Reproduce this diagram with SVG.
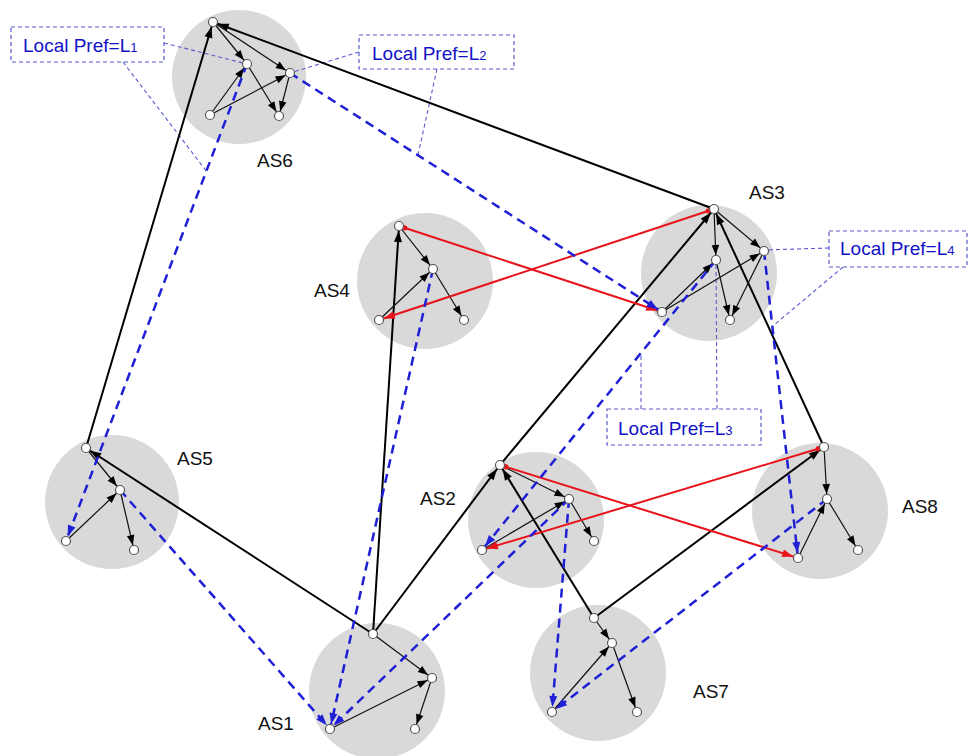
<svg xmlns="http://www.w3.org/2000/svg" width="972" height="756" viewBox="0 0 972 756">
<style>
.area{fill:#d9d9d9}
.ex{stroke:#000;stroke-width:2;fill:none;marker-end:url(#ab)}
.in{stroke:#111;stroke-width:1.2;fill:none;marker-end:url(#ai)}
.rd{stroke:#e8141c;stroke-width:2;fill:none;marker-end:url(#ar);marker-start:url(#rs)}
.bl{stroke:#1f1fd6;stroke-width:2.5;fill:none;stroke-dasharray:9,6;marker-end:url(#abl)}
.co{stroke:#5b5bd0;stroke-width:1.1;fill:none;stroke-dasharray:4,3}
.box{stroke:#5b5bd0;stroke-width:1.2;fill:#fff;stroke-dasharray:4,3}
.rt{fill:#fff;stroke:#555;stroke-width:1.2}
.as{font-family:"Liberation Sans",Arial,sans-serif;font-size:19px;fill:#111}
.lp{font-family:"Liberation Sans",Arial,sans-serif;font-size:19px;fill:#1212c8}
.sub{font-size:13px}
</style>
<defs>
<marker id="ab" markerUnits="userSpaceOnUse" markerWidth="12" markerHeight="8" refX="16" refY="4" orient="auto" overflow="visible"><path d="M0,0 L11,4 L0,8 z" fill="#000"/></marker>
<marker id="ai" markerUnits="userSpaceOnUse" markerWidth="11" markerHeight="8" refX="15" refY="3.8" orient="auto" overflow="visible"><path d="M0,0 L10,3.8 L0,7.6 z" fill="#000"/></marker>
<marker id="ar" markerUnits="userSpaceOnUse" markerWidth="12" markerHeight="8" refX="16" refY="4" orient="auto" overflow="visible"><path d="M0,0 L11,4 L0,8 z" fill="#e8141c"/></marker>
<marker id="rs" markerUnits="userSpaceOnUse" markerWidth="6" markerHeight="6" refX="0" refY="0" orient="auto" overflow="visible"><circle cx="6" cy="0" r="2.6" fill="#e8141c"/></marker>
<marker id="abl" markerUnits="userSpaceOnUse" markerWidth="12" markerHeight="8" refX="16" refY="4" orient="auto" overflow="visible"><path d="M0,0 L11,4 L0,8 z" fill="#1f1fd6"/></marker>
</defs>
<rect width="972" height="756" fill="#fff"/>
<g id="areas">
<circle class="area" cx="239" cy="77" r="67"/>
<circle class="area" cx="709" cy="273" r="68"/>
<circle class="area" cx="425" cy="281" r="68"/>
<circle class="area" cx="112" cy="502" r="67"/>
<circle class="area" cx="536" cy="520" r="68"/>
<circle class="area" cx="820" cy="511" r="68"/>
<circle class="area" cx="377" cy="691" r="68"/>
<circle class="area" cx="598" cy="673" r="68"/>
</g>
<g id="callouts">
<line class="co" x1="164" y1="43" x2="247" y2="64"/>
<line class="co" x1="123" y1="62" x2="207" y2="172"/>
<line class="co" x1="359" y1="52" x2="290" y2="73"/>
<line class="co" x1="437" y1="69" x2="418" y2="155"/>
<line class="co" x1="717" y1="409" x2="716" y2="262"/>
<line class="co" x1="641" y1="409" x2="641" y2="355"/>
<line class="co" x1="829" y1="248" x2="764" y2="250"/>
<line class="co" x1="843" y1="267" x2="774" y2="325"/>
</g>
<g id="connectors">
<line class="ex" x1="86" y1="448" x2="213" y2="22"/>
<line class="ex" x1="714" y1="209" x2="213" y2="22"/>
<line class="ex" x1="373" y1="634" x2="86" y2="448"/>
<line class="ex" x1="373" y1="634" x2="399" y2="226"/>
<line class="ex" x1="373" y1="634" x2="500" y2="465"/>
<line class="ex" x1="500" y1="465" x2="714" y2="209"/>
<line class="ex" x1="824" y1="447" x2="714" y2="209"/>
<line class="ex" x1="594" y1="618" x2="824" y2="447"/>
<line class="ex" x1="594" y1="618" x2="500" y2="465"/>
<line class="in" x1="213" y1="22" x2="247" y2="64"/>
<line class="in" x1="213" y1="22" x2="290" y2="73"/>
<line class="in" x1="247" y1="64" x2="279" y2="116"/>
<line class="in" x1="210" y1="115" x2="247" y2="64"/>
<line class="in" x1="210" y1="115" x2="290" y2="73"/>
<line class="in" x1="290" y1="73" x2="279" y2="116"/>
<line class="in" x1="714" y1="209" x2="716" y2="260"/>
<line class="in" x1="714" y1="209" x2="764" y2="251"/>
<line class="in" x1="662" y1="312" x2="716" y2="260"/>
<line class="in" x1="662" y1="312" x2="764" y2="251"/>
<line class="in" x1="716" y1="260" x2="730" y2="320"/>
<line class="in" x1="764" y1="251" x2="730" y2="320"/>
<line class="in" x1="399" y1="226" x2="433" y2="269"/>
<line class="in" x1="379" y1="320" x2="433" y2="269"/>
<line class="in" x1="433" y1="269" x2="464" y2="320"/>
<line class="in" x1="86" y1="448" x2="120" y2="490"/>
<line class="in" x1="66" y1="541" x2="120" y2="490"/>
<line class="in" x1="120" y1="490" x2="134" y2="550"/>
<line class="in" x1="500" y1="465" x2="569" y2="499"/>
<line class="in" x1="482" y1="550" x2="569" y2="499"/>
<line class="in" x1="569" y1="499" x2="594" y2="541"/>
<line class="in" x1="824" y1="447" x2="827" y2="499"/>
<line class="in" x1="798" y1="558" x2="827" y2="499"/>
<line class="in" x1="827" y1="499" x2="858" y2="550"/>
<line class="in" x1="373" y1="634" x2="432" y2="678"/>
<line class="in" x1="330" y1="729" x2="432" y2="678"/>
<line class="in" x1="432" y1="678" x2="415" y2="729"/>
<line class="in" x1="594" y1="618" x2="612" y2="643"/>
<line class="in" x1="552" y1="712" x2="612" y2="643"/>
<line class="in" x1="612" y1="643" x2="637" y2="712"/>
<line class="rd" x1="399" y1="226" x2="662" y2="312"/>
<line class="rd" x1="714" y1="209" x2="379" y2="320"/>
<line class="rd" x1="500" y1="465" x2="798" y2="558"/>
<line class="rd" x1="824" y1="447" x2="482" y2="550"/>
<line class="bl" x1="247" y1="64" x2="66" y2="541"/>
<line class="bl" x1="290" y1="73" x2="662" y2="312"/>
<line class="bl" x1="120" y1="490" x2="330" y2="729"/>
<line class="bl" x1="433" y1="269" x2="330" y2="729"/>
<line class="bl" x1="569" y1="499" x2="330" y2="729"/>
<line class="bl" x1="716" y1="260" x2="482" y2="550"/>
<line class="bl" x1="764" y1="251" x2="798" y2="558"/>
<line class="bl" x1="827" y1="499" x2="552" y2="712"/>
<line class="bl" x1="569" y1="499" x2="552" y2="712"/>
</g>
<g id="AS6">
<circle class="rt" cx="213" cy="22" r="4.5"/><circle class="rt" cx="247" cy="64" r="4.5"/><circle class="rt" cx="290" cy="73" r="4.5"/><circle class="rt" cx="210" cy="115" r="4.5"/><circle class="rt" cx="279" cy="116" r="4.5"/>
<text class="as" x="257" y="167">AS6</text>
</g>
<g id="AS3">
<circle class="rt" cx="714" cy="209" r="4.5"/><circle class="rt" cx="716" cy="260" r="4.5"/><circle class="rt" cx="764" cy="251" r="4.5"/><circle class="rt" cx="662" cy="312" r="4.5"/><circle class="rt" cx="730" cy="320" r="4.5"/>
<text class="as" x="749" y="199">AS3</text>
</g>
<g id="AS4">
<circle class="rt" cx="399" cy="226" r="4.5"/><circle class="rt" cx="433" cy="269" r="4.5"/><circle class="rt" cx="379" cy="320" r="4.5"/><circle class="rt" cx="464" cy="320" r="4.5"/>
<text class="as" x="314" y="297">AS4</text>
</g>
<g id="AS5">
<circle class="rt" cx="86" cy="448" r="4.5"/><circle class="rt" cx="120" cy="490" r="4.5"/><circle class="rt" cx="66" cy="541" r="4.5"/><circle class="rt" cx="134" cy="550" r="4.5"/>
<text class="as" x="177" y="465">AS5</text>
</g>
<g id="AS2">
<circle class="rt" cx="500" cy="465" r="4.5"/><circle class="rt" cx="569" cy="499" r="4.5"/><circle class="rt" cx="482" cy="550" r="4.5"/><circle class="rt" cx="594" cy="541" r="4.5"/>
<text class="as" x="420" y="505">AS2</text>
</g>
<g id="AS8">
<circle class="rt" cx="824" cy="447" r="4.5"/><circle class="rt" cx="827" cy="499" r="4.5"/><circle class="rt" cx="798" cy="558" r="4.5"/><circle class="rt" cx="858" cy="550" r="4.5"/>
<text class="as" x="902" y="513">AS8</text>
</g>
<g id="AS1">
<circle class="rt" cx="373" cy="634" r="4.5"/><circle class="rt" cx="432" cy="678" r="4.5"/><circle class="rt" cx="330" cy="729" r="4.5"/><circle class="rt" cx="415" cy="729" r="4.5"/>
<text class="as" x="258" y="730">AS1</text>
</g>
<g id="AS7">
<circle class="rt" cx="594" cy="618" r="4.5"/><circle class="rt" cx="612" cy="643" r="4.5"/><circle class="rt" cx="552" cy="712" r="4.5"/><circle class="rt" cx="637" cy="712" r="4.5"/>
<text class="as" x="693" y="698">AS7</text>
</g>
<g id="pref-L1">
<rect class="box" x="11" y="27" width="153" height="35"/>
<text class="lp" x="23" y="52">Local Pref=L<tspan class="sub">1</tspan></text>
</g>
<g id="pref-L2">
<rect class="box" x="359" y="35" width="155" height="34"/>
<text class="lp" x="372" y="60">Local Pref=L<tspan class="sub">2</tspan></text>
</g>
<g id="pref-L3">
<rect class="box" x="607" y="409" width="154" height="36"/>
<text class="lp" x="618" y="435">Local Pref=L<tspan class="sub">3</tspan></text>
</g>
<g id="pref-L4">
<rect class="box" x="829" y="231" width="138" height="36"/>
<text class="lp" x="840" y="255">Local Pref=L<tspan class="sub">4</tspan></text>
</g>
</svg>
